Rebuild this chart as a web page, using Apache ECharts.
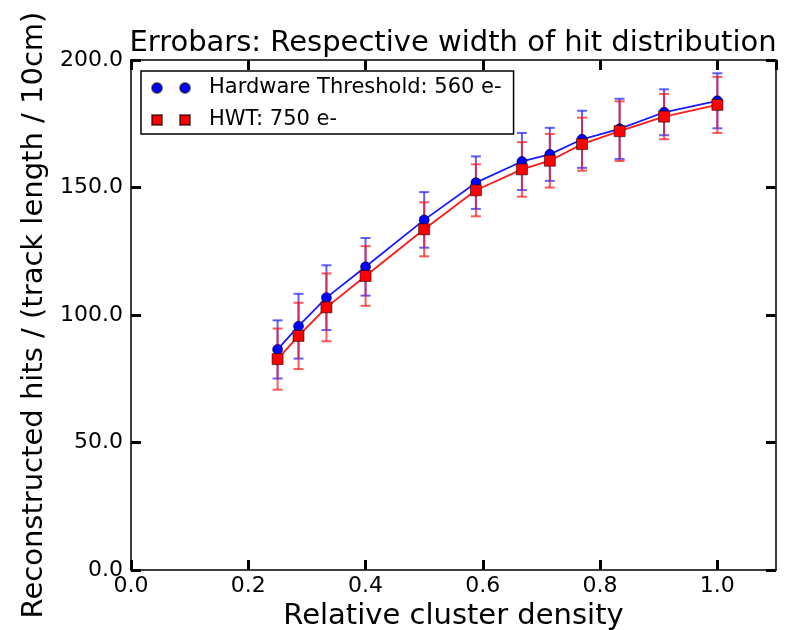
<!DOCTYPE html>
<html>
<head>
<meta charset="utf-8">
<script src="https://cdn.jsdelivr.net/npm/echarts@6/dist/echarts.min.js"></script>
<style>
html,body{margin:0;padding:0;background:#fff;}
#chart{width:795px;height:630px;}
</style>
</head>
<body>
<div id="chart"></div>
<script>
// ---- data ----
const xVals = [0.25, 0.2857, 0.3333, 0.4, 0.5, 0.5882, 0.6667, 0.7143, 0.7692, 0.8333, 0.9091, 1.0];
const hw560 = [86.5, 95.6, 106.8, 118.9, 137.3, 151.9, 160.2, 163.0, 168.9, 173.0, 179.5, 184.0];
const hw560Err = [11.4, 12.7, 12.7, 11.3, 10.9, 10.3, 11.2, 10.4, 11.2, 11.8, 9.0, 10.8];
const hwt750 = [82.7, 91.8, 103.0, 115.3, 133.6, 148.9, 157.1, 160.5, 167.0, 172.1, 177.8, 182.4];
const hwt750Err = [12.0, 13.0, 13.3, 11.7, 10.6, 10.2, 10.7, 10.5, 10.4, 11.7, 8.9, 11.0];
const seriesNames = ['Hardware Threshold: 560 e-', 'HWT: 750 e-'];
const titleText = 'Errobars: Respective width of hit distribution';
const xName = 'Relative cluster density';
const yName = 'Reconstructed hits / (track length / 10cm)';

const FONT = 'DejaVu Sans';

function errData(y, e) {
  return xVals.map((x, i) => [x, y[i] - e[i], y[i] + e[i]]);
}
function errRender(color) {
  return function (params, api) {
    const x = api.value(0), lo = api.value(1), hi = api.value(2);
    const t = api.coord([x, hi]), b = api.coord([x, lo]);
    const cap = 5;
    const st = { stroke: color, lineWidth: 2 };
    return {
      type: 'group',
      children: [
        { type: 'line', shape: { x1: t[0], y1: t[1], x2: b[0], y2: b[1] }, style: st },
        { type: 'line', shape: { x1: t[0] - cap, y1: t[1], x2: t[0] + cap, y2: t[1] }, style: st },
        { type: 'line', shape: { x1: b[0] - cap, y1: b[1], x2: b[0] + cap, y2: b[1] }, style: st }
      ]
    };
  };
}

const axisLine = { show: true, onZero: false, lineStyle: { color: '#000', width: 1.5 } };
const axisTick = { show: true, inside: true, length: 10, lineStyle: { color: '#000', width: 3 } };
const tickFont = { fontFamily: FONT, fontSize: 22, color: '#000' };

const chart = echarts.init(document.getElementById('chart'), null, { renderer: 'canvas' });
chart.setOption({
  animation: false,
  backgroundColor: '#fff',
  title: {
    text: titleText,
    left: 453,
    textAlign: 'center',
    top: 29,
    padding: 0,
    textStyle: { fontFamily: FONT, fontSize: 29, fontWeight: 'normal', color: '#000' }
  },
  legend: {
    orient: 'vertical',
    left: 141,
    top: 71,
    padding: [6, 12, 3, 10],
    itemGap: 10,
    itemWidth: 38,
    itemHeight: 10,
    borderColor: '#000',
    borderWidth: 1.5,
    borderRadius: 0,
    textStyle: { fontFamily: FONT, fontSize: 21, color: '#000', padding: [0, 0, 0, 14], lineHeight: 22 },
    data: [
      { name: seriesNames[0], icon: 'path://M0,5a5,5 0 1,0 10,0a5,5 0 1,0 -10,0zM28,5a5,5 0 1,0 10,0a5,5 0 1,0 -10,0z' },
      { name: seriesNames[1], icon: 'path://M0,0h10v10h-10zM28,0h10v10h-10z' }
    ]
  },
  grid: { left: 131, right: 19, top: 60, bottom: 60, containLabel: false, outerBoundsMode: 'none' },
  xAxis: [
    {
      type: 'value', position: 'bottom', min: 0, max: 1.1, interval: 0.2,
      axisLine, axisTick, splitLine: { show: false },
      axisLabel: Object.assign({ margin: 5, showMaxLabel: false, formatter: v => v.toFixed(1) }, tickFont),
      name: xName, nameLocation: 'middle', nameGap: 28,
      nameTextStyle: { fontFamily: FONT, fontSize: 29, color: '#000' }
    },
    {
      type: 'value', position: 'top', min: 0, max: 1.1, interval: 0.2,
      axisLine, axisTick, splitLine: { show: false }, axisLabel: { show: false }
    }
  ],
  yAxis: [
    {
      type: 'value', position: 'left', min: 0, max: 200, interval: 50,
      axisLine, axisTick, splitLine: { show: false },
      axisLabel: Object.assign({ margin: 8, formatter: v => v.toFixed(1) }, tickFont),
      name: yName, nameLocation: 'middle', nameGap: 80, nameRotate: 90,
      nameTextStyle: { fontFamily: FONT, fontSize: 29, color: '#000' }
    },
    {
      type: 'value', position: 'right', min: 0, max: 200, interval: 50,
      axisLine, axisTick, splitLine: { show: false }, axisLabel: { show: false }
    }
  ],
  series: [
    {
      type: 'custom', name: 'err560', xAxisIndex: 0, yAxisIndex: 0, z: 2,
      renderItem: errRender('rgba(30,30,255,0.7)'),
      encode: { x: 0, y: [1, 2] },
      data: errData(hw560, hw560Err)
    },
    {
      type: 'line', name: seriesNames[0], xAxisIndex: 0, yAxisIndex: 0, z: 3,
      data: xVals.map((x, i) => [x, hw560[i]]),
      symbol: 'circle', symbolSize: 10, showSymbol: true,
      lineStyle: { color: '#1a1aff', width: 1.8 },
      itemStyle: { color: '#0000ff', borderColor: 'rgba(0,0,0,0.55)', borderWidth: 1 }
    },
    {
      type: 'custom', name: 'err750', xAxisIndex: 0, yAxisIndex: 0, z: 2,
      renderItem: errRender('rgba(255,20,20,0.7)'),
      encode: { x: 0, y: [1, 2] },
      data: errData(hwt750, hwt750Err)
    },
    {
      type: 'line', name: seriesNames[1], xAxisIndex: 0, yAxisIndex: 0, z: 4,
      data: xVals.map((x, i) => [x, hwt750[i]]),
      symbol: 'rect', symbolSize: 11, showSymbol: true,
      lineStyle: { color: '#ff1a1a', width: 1.8 },
      itemStyle: { color: '#ff0000', borderColor: 'rgba(0,0,0,0.55)', borderWidth: 1 }
    }
  ]
});
</script>
</body>
</html>
